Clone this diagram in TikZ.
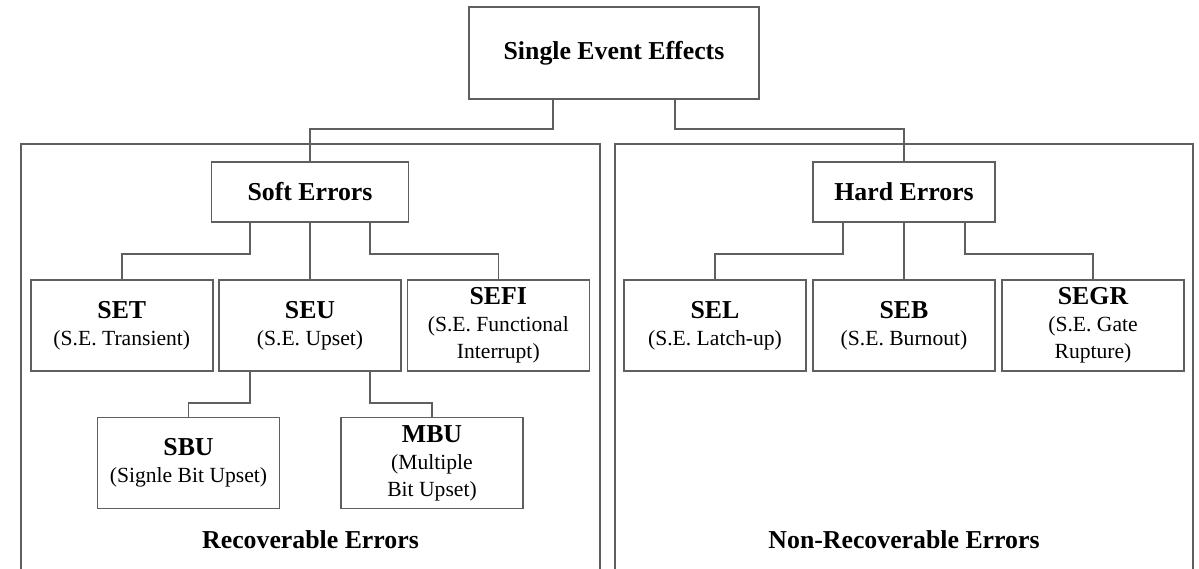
\documentclass[tikz,border=0pt]{standalone}
\usepackage{fontspec}
\setmainfont{Liberation Serif}
\definecolor{linegray}{RGB}{95,95,95}
\newcommand{\ttl}[1]{{\fontsize{25.8pt}{28pt}\selectfont\bfseries #1}}
\begin{document}
\begin{tikzpicture}[x=1pt,y=-1pt,
  box/.style={draw=linegray, line width=1.6pt, inner sep=0pt, align=center,
    font=\fontsize{21.6pt}{27pt}\selectfont},
  head/.style={box, font=\fontsize{25.8pt}{27pt}\selectfont\bfseries},
  leaf/.style={box, minimum width=182pt, minimum height=91pt},
  link/.style={draw=linegray, line width=1.6pt},
  grouplabel/.style={inner sep=0pt, font=\fontsize{25.8pt}{27pt}\selectfont\bfseries}]
\useasboundingbox (0,0) rectangle (1199,568);
\clip (0,0) rectangle (1199,568);
% group frames
\draw[link] (21,144) rectangle (600,640);
\draw[link] (615,144) rectangle (1193,640);
% nodes
\node[head, minimum width=290pt, minimum height=92pt] (see) at (614,53) {Single Event Effects};
\node[head, minimum width=197pt, minimum height=60pt] (soft) at (310,192) {Soft Errors};
\node[head, minimum width=182pt, minimum height=60pt] (hard) at (904,192) {Hard Errors};
\node[leaf] (set)  at (121.8,325.5) {\ttl{SET}\\(S.E. Transient)};
\node[leaf] (seu)  at (310,325.5) {\ttl{SEU}\\(S.E. Upset)};
\node[leaf] (sefi) at (498.3,325.5) {\ttl{SEFI}\\(S.E. Functional\\Interrupt)};
\node[leaf] (sel)  at (715,325.5) {\ttl{SEL}\\(S.E. Latch-up)};
\node[leaf] (seb)  at (904,325.5) {\ttl{SEB}\\(S.E. Burnout)};
\node[leaf] (segr) at (1093,325.5) {\ttl{SEGR}\\(S.E. Gate\\Rupture)};
\node[leaf] (sbu)  at (188.5,463) {\ttl{SBU}\\(Signle Bit Upset)};
\node[leaf] (mbu)  at (432,463) {\ttl{MBU}\\(Multiple\\Bit Upset)};
\node[grouplabel] (rec) at (310.5,540) {Recoverable Errors};
\node[grouplabel] (nrec) at (904,540) {Non-Recoverable Errors};
% connectors
\draw[link] ([xshift=-61pt]see.south) -- ++(0,29) -| (soft.north);
\draw[link] ([xshift=61pt]see.south) -- ++(0,29) -| (hard.north);
\draw[link] ([xshift=-60pt]soft.south) -- ++(0,31) -| (set.north);
\draw[link] (soft.south) -- (seu.north);
\draw[link] ([xshift=60pt]soft.south) -- ++(0,31) -| (sefi.north);
\draw[link] ([xshift=-61pt]hard.south) -- ++(0,31) -| (sel.north);
\draw[link] (hard.south) -- (seb.north);
\draw[link] ([xshift=61pt]hard.south) -- ++(0,31) -| (segr.north);
\draw[link] ([xshift=-60pt]seu.south) -- ++(0,31) -| (sbu.north);
\draw[link] ([xshift=60pt]seu.south) -- ++(0,31) -| (mbu.north);
\end{tikzpicture}
\end{document}
